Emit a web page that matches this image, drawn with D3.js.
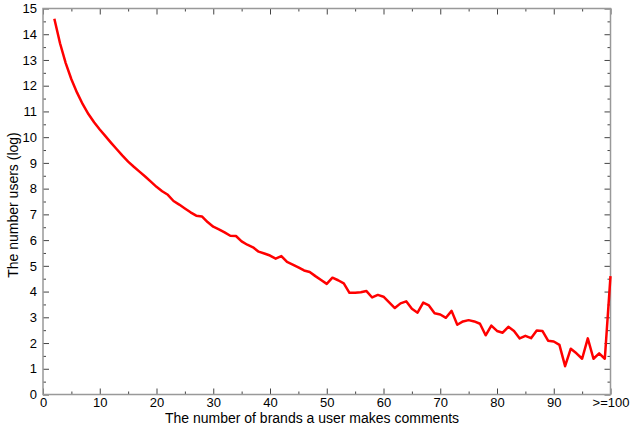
<!DOCTYPE html>
<html>
<head>
<meta charset="utf-8">
<script src="https://cdn.jsdelivr.net/npm/d3@7"></script>
<style>
 body { margin: 0; background: #fff; }
 text { font-family: "Liberation Sans", Arial, sans-serif; fill: #000; }
</style>
</head>
<body>
<svg width="641" height="425"></svg>
<script>
// Data: brands commented (2..100) vs log user count.

var brands = d3.range(2, 101);
var logUsers = [
 14.6, 13.65, 12.88, 12.25, 11.73, 11.28, 10.9, 10.58, 10.3,
 10.04, 9.78, 9.53, 9.28, 9.05, 8.85, 8.66, 8.47, 8.27, 8.07,
 7.9, 7.76, 7.52, 7.38, 7.23, 7.08, 6.95, 6.92, 6.7, 6.52,
 6.42, 6.3, 6.17, 6.16, 5.95, 5.82, 5.72, 5.55, 5.48, 5.4,
 5.28, 5.38, 5.15, 5.05, 4.94, 4.82, 4.76, 4.6, 4.45, 4.3,
 4.54, 4.44, 4.32, 3.95, 3.95, 3.97, 4.02, 3.77, 3.87, 3.8,
 3.58, 3.36, 3.54, 3.62, 3.33, 3.18, 3.57, 3.46, 3.16, 3.11,
 2.98, 3.25, 2.71, 2.84, 2.89, 2.84, 2.75, 2.3, 2.68, 2.47,
 2.4, 2.63, 2.47, 2.18, 2.28, 2.19, 2.49, 2.47, 2.09, 2.06,
 1.93, 1.1, 1.78, 1.6, 1.39, 2.18, 1.39, 1.6, 1.39, 4.6
];
var xTicks = [0, 10, 20, 30, 40, 50, 60, 70, 80, 90, 100];
var xTickLabels = ['0', '10', '20', '30', '40', '50', '60', '70', '80', '90', '>=100'];
var yTicks = d3.range(0, 16);

var svg = d3.select('svg');
var margin = {top: 8.5, right: 30.5, bottom: 30.5, left: 43};
var width = svg.attr('width') - margin.left - margin.right;
var height = svg.attr('height') - margin.top - margin.bottom;
var graphic = svg.append('g').attr('transform', 'translate(' + margin.left + ',' + margin.top + ')');

var x = d3.scaleLinear().domain([0, 100]).range([0, width]);
var y = d3.scaleLinear().domain([0, 15]).range([height, 0]);

// Frame with inward ticks on every side, IDL style.

function styleAxis(g) {
 g.select('.domain').remove();
 g.selectAll('.tick line').attr('stroke', '#444').attr('stroke-width', 1);
 g.selectAll('.tick text').attr('font-size', 13).attr('fill', '#000');
}

var xMinor = d3.range(5, 100, 10);
var yMinor = d3.range(0.5, 15, 1);

graphic.append('g')
 .attr('transform', 'translate(0,' + height + ')')
 .call(d3.axisBottom(x).tickValues(xTicks)
  .tickFormat(function(d, i) { return xTickLabels[i]; })
  .tickSizeInner(-6).tickSizeOuter(0).tickPadding(3))
 .call(styleAxis);

graphic.append('g')
 .attr('transform', 'translate(0,' + height + ')')
 .call(d3.axisBottom(x).tickValues(xMinor).tickFormat('').tickSizeInner(-3).tickSizeOuter(0))
 .call(styleAxis);

graphic.append('g')
 .call(d3.axisTop(x).tickValues(xTicks).tickFormat('').tickSizeInner(-6).tickSizeOuter(0))
 .call(styleAxis);

graphic.append('g')
 .call(d3.axisTop(x).tickValues(xMinor).tickFormat('').tickSizeInner(-3).tickSizeOuter(0))
 .call(styleAxis);

graphic.append('g')
 .call(d3.axisLeft(y).tickValues(yTicks).tickFormat(d3.format('d'))
  .tickSizeInner(-6).tickSizeOuter(0).tickPadding(6))
 .call(styleAxis);

graphic.append('g')
 .call(d3.axisLeft(y).tickValues(yMinor).tickFormat('').tickSizeInner(-3).tickSizeOuter(0))
 .call(styleAxis);

graphic.append('g')
 .attr('transform', 'translate(' + width + ',0)')
 .call(d3.axisRight(y).tickValues(yTicks).tickFormat('').tickSizeInner(-6).tickSizeOuter(0))
 .call(styleAxis);

graphic.append('g')
 .attr('transform', 'translate(' + width + ',0)')
 .call(d3.axisRight(y).tickValues(yMinor).tickFormat('').tickSizeInner(-3).tickSizeOuter(0))
 .call(styleAxis);

graphic.append('rect')
 .attr('width', width)
 .attr('height', height)
 .attr('fill', 'none')
 .attr('stroke', '#999')
 .attr('stroke-width', 1.5);

// The curve.

var line = d3.line()
 .x(function(d, i) { return x(brands[i]); })
 .y(function(d) { return y(d); });

graphic.append('path')
 .datum(logUsers)
 .attr('fill', 'none')
 .attr('stroke', '#ff0000')
 .attr('stroke-width', 2.5)
 .attr('stroke-linejoin', 'round')
 .attr('d', line);

// Axis titles.

svg.append('text')
 .attr('x', 312)
 .attr('y', 423)
 .attr('text-anchor', 'middle')
 .attr('font-size', 14)
 .text('The number of brands a user makes comments');

svg.append('text')
 .attr('transform', 'translate(18,205) rotate(-90)')
 .attr('text-anchor', 'middle')
 .attr('font-size', 14)
 .text('The number users (log)');
</script>
</body>
</html>
